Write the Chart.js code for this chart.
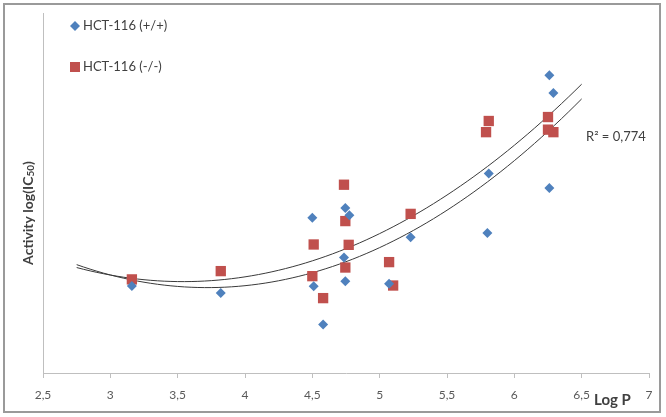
<!DOCTYPE html>
<html>
<head>
<meta charset="utf-8">
<script src="https://cdn.jsdelivr.net/npm/chart.js@4"></script>
<style>
  html, body { margin: 0; padding: 0; background: #fff; }
  #wrap { width: 666px; height: 417px; position: relative; }
</style>
</head>
<body>
<div id="wrap"><canvas id="chart"></canvas></div>
<script>
// HCT-116 (+/+)
const wildLogP = [3.16, 3.82, 4.50, 4.51, 4.58, 4.745, 4.775, 4.735, 4.745, 5.07, 5.23, 5.81, 5.80, 6.26, 6.29, 6.26]
const wildAct  = [2.42, 2.22, 4.31, 2.41, 1.35, 4.58, 4.38, 3.21, 2.55, 2.48, 3.77, 5.54, 3.89, 8.27, 7.78, 5.14]
// HCT-116 (-/-)
const koLogP = [3.16, 3.82, 4.51, 4.50, 4.58, 4.735, 4.745, 4.77, 4.745, 5.07, 5.10, 5.23, 5.79, 5.81, 6.25, 6.25, 6.29]
const koAct  = [2.60, 2.83, 3.57, 2.69, 2.08, 5.23, 4.22, 3.56, 2.93, 3.08, 2.43, 4.42, 6.69, 7.00, 7.11, 6.76, 6.69]

const xTicks = [2.5, 3, 3.5, 4, 4.5, 5, 5.5, 6, 6.5, 7]
const trendFrom = 2.75
const trendTo = 6.5
const r2Label = 'R² = 0,774'

const BLUE = '#4F81BD'
const RED = '#C0504D'
const TEXT = '#404040'

// least squares polynomial (order 2), like the Excel trendline
function quadFit(xs, ys) {
    let s = [0, 0, 0, 0, 0], t = [0, 0, 0]
    xs.forEach((x, i) => {
        for (let k = 0; k < 5; k++) s[k] += Math.pow(x, k)
        for (let k = 0; k < 3; k++) t[k] += Math.pow(x, k) * ys[i]
    })
    const m = [[s[0], s[1], s[2], t[0]], [s[1], s[2], s[3], t[1]], [s[2], s[3], s[4], t[2]]]
    for (let i = 0; i < 3; i++) {
        for (let j = i + 1; j < 3; j++) {
            const f = m[j][i] / m[i][i]
            for (let k = i; k < 4; k++) m[j][k] -= f * m[i][k]
        }
    }
    const c = [0, 0, 0]
    for (let i = 2; i >= 0; i--) {
        let v = m[i][3]
        for (let k = i + 1; k < 3; k++) v -= m[i][k] * c[k]
        c[i] = v / m[i][i]
    }
    return c
}

function trendPoints(xs, ys) {
    const c = quadFit(xs, ys)
    const pts = []
    for (let i = 0; i <= 75; i++) {
        const x = trendFrom + (trendTo - trendFrom) * i / 75
        pts.push({x: x, y: c[0] + c[1] * x + c[2] * x * x})
    }
    return pts
}

const toXY = (xs, ys) => xs.map((x, i) => ({x: x, y: ys[i]}))

const decorations = {
    id: 'decorations',
    afterDraw(chart) {
        const ctx = chart.ctx
        ctx.save()
        // outer frame
        ctx.strokeStyle = '#9a9a9a'
        ctx.lineWidth = 2
        ctx.strokeRect(4, 4, 656, 408)

        // legend
        ctx.fillStyle = BLUE
        ctx.beginPath()
        ctx.moveTo(75, 21); ctx.lineTo(80, 26); ctx.lineTo(75, 31); ctx.lineTo(70, 26)
        ctx.closePath(); ctx.fill()
        ctx.fillStyle = RED
        ctx.fillRect(70, 62, 10, 10)
        ctx.fillStyle = TEXT
        ctx.font = '13px Lato'
        ctx.textBaseline = 'middle'
        ctx.fillText('HCT-116 (+/+)', 83, 26)
        ctx.fillText('HCT-116 (-/-)', 83, 67)

        // R² label
        ctx.fillText(r2Label, 586, 137)

        // x title
        ctx.font = 'bold 15px Lato'
        ctx.fillText('Log P', 594, 400)

        // y title with subscript
        ctx.translate(28, 213)
        ctx.rotate(-Math.PI / 2)
        const main = 'Activity log(IC', sub = '50', end = ')'
        ctx.font = 'bold 14px Lato'
        const w1 = ctx.measureText(main).width, w3 = ctx.measureText(end).width
        ctx.font = 'bold 10px Lato'
        const w2 = ctx.measureText(sub).width
        let x0 = -(w1 + w2 + w3) / 2
        ctx.font = 'bold 14px Lato'
        ctx.fillText(main, x0, 0)
        ctx.font = 'bold 10px Lato'
        ctx.fillText(sub, x0 + w1, 3)
        ctx.font = 'bold 14px Lato'
        ctx.fillText(end, x0 + w1 + w2, 0)
        ctx.restore()
    }
}

new Chart(document.getElementById('chart'), {
    type: 'scatter',
    data: {
        datasets: [{
            label: 'HCT-116 (+/+)',
            data: toXY(wildLogP, wildAct),
            pointStyle: 'rectRot',
            pointRadius: 5,
            pointHoverRadius: 5,
            backgroundColor: BLUE,
            borderColor: BLUE,
            borderWidth: 0
        }, {
            label: 'HCT-116 (-/-)',
            data: toXY(koLogP, koAct),
            pointStyle: 'rect',
            pointRadius: 7.3,
            pointHoverRadius: 7.3,
            backgroundColor: RED,
            borderColor: RED,
            borderWidth: 0
        }, {
            label: 'trend +/+',
            data: trendPoints(wildLogP, wildAct),
            showLine: true,
            pointRadius: 0,
            borderColor: '#3a3a3a',
            borderWidth: 1,
            tension: 0
        }, {
            label: 'trend -/-',
            data: trendPoints(koLogP, koAct),
            showLine: true,
            pointRadius: 0,
            borderColor: '#3a3a3a',
            borderWidth: 1,
            tension: 0
        }]
    },
    options: {
        responsive: true,
        maintainAspectRatio: false,
        animation: false,
        layout: {padding: {left: 43, top: 13, right: 17, bottom: 0}},
        plugins: {
            legend: {display: false},
            tooltip: {enabled: false}
        },
        scales: {
            x: {
                type: 'linear',
                min: 2.5,
                max: 7,
                afterBuildTicks: (s) => { s.ticks = xTicks.map(v => ({value: v})) },
                afterFit: (s) => { s.height = 44 },
                ticks: {
                    color: '#595959',
                    font: {family: 'Lato', size: 12},
                    padding: 10,
                    maxRotation: 0,
                    callback: (v) => String(v).replace('.', ',')
                },
                grid: {drawOnChartArea: false, drawTicks: true, tickLength: 5, color: '#bfbfbf'},
                border: {color: '#bfbfbf', width: 1}
            },
            y: {
                type: 'linear',
                min: 0,
                max: 10,
                afterFit: (s) => { s.width = 0 },
                ticks: {display: false},
                grid: {display: false},
                border: {color: '#bfbfbf', width: 1}
            }
        }
    },
    plugins: [decorations]
});
</script>
</body>
</html>
